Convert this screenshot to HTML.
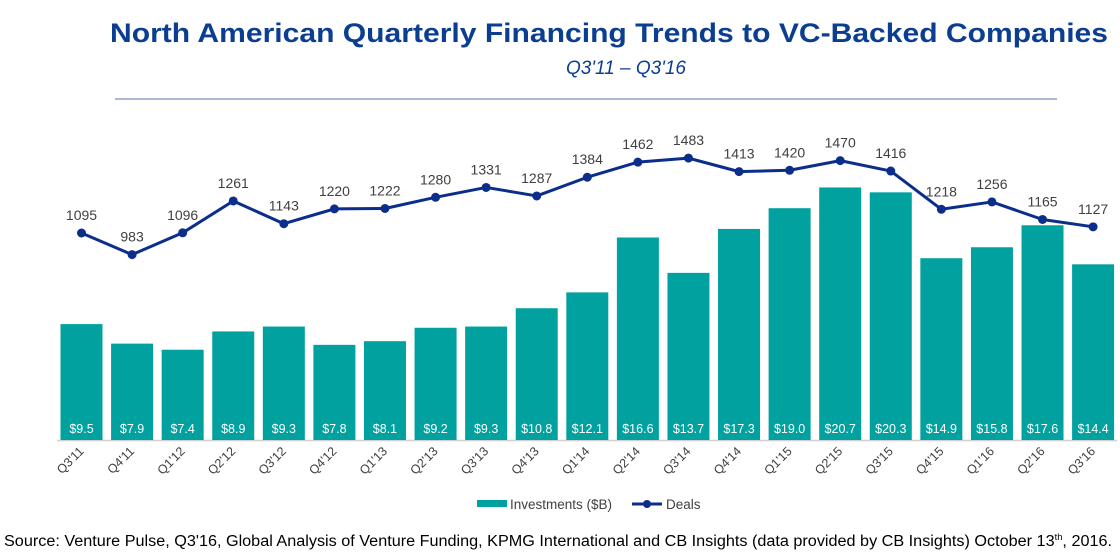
<!DOCTYPE html>
<html><head><meta charset="utf-8"><style>
body{margin:0;background:#fff;width:1120px;height:555px;overflow:hidden;font-family:"Liberation Sans",Arial,sans-serif}
</style></head><body>
<svg width="1120" height="555" id="chart" xmlns="http://www.w3.org/2000/svg">
<text x="110" y="42" font-size="26.5" font-weight="bold" fill="#0B3D91" textLength="998" lengthAdjust="spacingAndGlyphs">North American Quarterly Financing Trends to VC-Backed Companies</text>
<text x="626" y="74" text-anchor="middle" font-size="19" font-style="italic" fill="#0B3D91">Q3'11 – Q3'16</text>
<line x1="115" y1="99" x2="1057" y2="99" stroke="#5a6fb0" stroke-width="1"/>
<line x1="57" y1="440.5" x2="1117" y2="440.5" stroke="#d0d0d0" stroke-width="1.5"/>
<g id="bars"></g><g id="line"></g><g id="xlabels"></g>
<g>
<rect x="477" y="500" width="30" height="7" fill="#00A19E"/>
<text x="510" y="509" font-size="13.5" fill="#404040">Investments ($B)</text>
<line x1="632" y1="504" x2="662" y2="504" stroke="#0B2D8C" stroke-width="3"/>
<circle cx="647" cy="504" r="4" fill="#0B2D8C"/>
<text x="666" y="509" font-size="13.5" fill="#404040">Deals</text>
</g>
<text x="4" y="546" font-size="15.5" fill="#000" textLength="1108" lengthAdjust="spacingAndGlyphs">Source: Venture Pulse, Q3'16, Global Analysis of Venture Funding, KPMG International and CB Insights (data provided by CB Insights) October 13<tspan font-size="9" dy="-6">th</tspan><tspan dy="6">, 2016.</tspan></text>
</svg>
<script>
const categories=["Q3'11","Q4'11","Q1'12","Q2'12","Q3'12","Q4'12","Q1'13","Q2'13","Q3'13","Q4'13","Q1'14","Q2'14","Q3'14","Q4'14","Q1'15","Q2'15","Q3'15","Q4'15","Q1'16","Q2'16","Q3'16"];
const investments=[9.5,7.9,7.4,8.9,9.3,7.8,8.1,9.2,9.3,10.8,12.1,16.6,13.7,17.3,19.0,20.7,20.3,14.9,15.8,17.6,14.4];
const deals=[1095,983,1096,1261,1143,1220,1222,1280,1331,1287,1384,1462,1483,1413,1420,1470,1416,1218,1256,1165,1127];
const NS="http://www.w3.org/2000/svg";
const xC=i=>81.5+i*50.58;
const yBar=v=>440-v*12.2;
const yDeal=d=>233-(d-1095)*0.193;
function mk(t,a,p){const e=document.createElementNS(NS,t);for(const k in a)e.setAttribute(k,a[k]);p.appendChild(e);return e;}
const gb=document.getElementById('bars'),gl=document.getElementById('line'),gx=document.getElementById('xlabels');
categories.forEach((c,i)=>{
  const r=mk('rect',{x:xC(i)-21,y:yBar(investments[i]),width:42,height:440-yBar(investments[i]),fill:'#00A19E'},gb);
  
  
  const t=mk('text',{x:xC(i),y:433,'text-anchor':'middle','font-size':12.5,fill:'#fff'},gb);
  t.textContent='$'+investments[i].toFixed(1);
  
  
  const lx=xC(i)+3,ly=452;
  const xl=mk('text',{x:lx,y:ly,'text-anchor':'end','font-size':12.5,fill:'#404040',transform:'rotate(-45 '+lx+' '+ly+')'},gx);
  xl.textContent=c;
  
  
});
const pts=deals.map((d,i)=>xC(i)+','+yDeal(d)).join(' ');
const pl=mk('polyline',{points:pts,fill:'none',stroke:'#0B2D8C','stroke-width':3,'stroke-linejoin':'round'},gl);


deals.forEach((d,i)=>{
  const c=mk('circle',{cx:xC(i),cy:yDeal(d),r:4.5,fill:'#0B2D8C'},gl);
  
  
  const t=mk('text',{x:xC(i),y:yDeal(d)-13,'text-anchor':'middle','font-size':14,fill:'#404040'},gl);
  t.textContent=d;
  
  
});
</script>
</body></html>
